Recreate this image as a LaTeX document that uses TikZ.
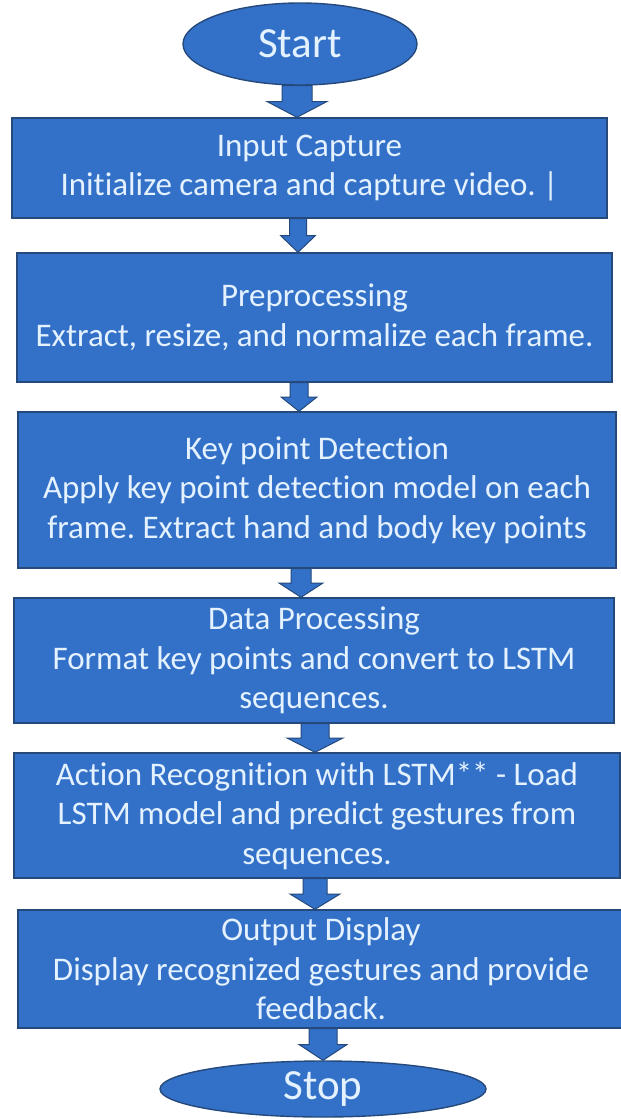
\documentclass[tikz,border=0pt]{standalone}
\usepackage{fontspec}
\setmainfont{Carlito}[Ligatures=NoCommon]
\usepackage{tikz}
\usetikzlibrary{calc,shapes.geometric}
\frenchspacing

\definecolor{boxblue}{HTML}{3371C9}
\definecolor{edgeblue}{HTML}{25497A}
\definecolor{paletext}{HTML}{E4F1FF}

% block arrow from the bottom of #1 to the top of #2 at x=#3
\newcommand{\flowarrow}[5]{%
  \path[arrowbody] let \p1=(#1.south), \p2=(#2.north), \p3=(#3,0) in
    (\x3-#4pt,\y1) -- (\x3+#4pt,\y1) -- (\x3+#4pt,{0.5*\y1+0.5*\y2})
    -- (\x3+#5pt,{0.5*\y1+0.5*\y2}) -- (\x3,\y2) -- (\x3-#5pt,{0.5*\y1+0.5*\y2})
    -- (\x3-#4pt,{0.5*\y1+0.5*\y2}) -- cycle;}

\begin{document}
\begin{tikzpicture}[x=1pt, y=-1pt,
  box/.style={draw=edgeblue, line width=1.4pt, fill=boxblue, text=paletext,
    rectangle, inner sep=0pt, align=center, font=\fontsize{33}{39.5}\selectfont},
  term/.style={draw=edgeblue, line width=1.4pt, fill=boxblue, text=paletext,
    ellipse, inner sep=0pt, font=\fontsize{43}{48}\selectfont},
  arrowbody/.style={draw=edgeblue, line width=1pt, fill=boxblue}]
  \useasboundingbox (0,0) rectangle (621,1119);

  \node [term, minimum width=234, minimum height=82] (start) at (300,44) {Start};
  \node [box, minimum width=595, minimum height=100] (capture) at (309.5,168)
    {Input Capture\\Initialize camera and capture video. |};
  \node [box, minimum width=595, minimum height=129] (prep) at (314.5,317.5)
    {Preprocessing\\Extract, resize, and normalize each frame.};
  \node [box, minimum width=598, minimum height=156] (keypt) at (317,490)
    {Key point Detection\\Apply key point detection model on each\\frame. Extract hand and body key points};
  \node [box, minimum width=600, minimum height=125] (dataproc) at (314,660.5)
    {Data Processing\\ Format key points and convert to LSTM\\sequences.};
  \node [box, minimum width=606, minimum height=125] (action) at (317,815.5)
    {Action Recognition with LSTM** - Load\\LSTM model and predict gestures from\\sequences.};
  \node [box, minimum width=606, minimum height=118] (output) at (321,969)
    {Output Display\\ Display recognized gestures and provide\\feedback.};
  \node [term, minimum width=326, minimum height=56] (stop) at (323,1089) {Stop};

  \flowarrow{start}{capture}{297}{15}{30}
  \flowarrow{capture}{prep}{298}{8.5}{17.5}
  \flowarrow{prep}{keypt}{299}{9}{18}
  \flowarrow{keypt}{dataproc}{301}{10}{22}
  \flowarrow{dataproc}{action}{315}{14}{28}
  \flowarrow{action}{output}{315}{12}{25}
  \flowarrow{output}{stop}{323}{14}{24}
\end{tikzpicture}
\end{document}
